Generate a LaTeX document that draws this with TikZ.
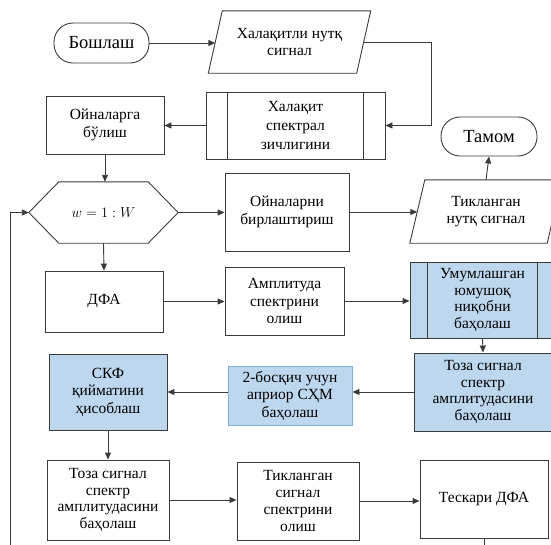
\documentclass[tikz,border=0pt]{standalone}
\usepackage{fontspec}
\setmainfont{Liberation Serif}
\newfontfamily\tnr{Liberation Serif}
\usetikzlibrary{arrows.meta,calc}
\definecolor{bfill}{HTML}{BDD7EE}
\definecolor{ln}{HTML}{3A3A3A}
\definecolor{bl}{HTML}{7FAEDC}
\tikzset{
  base/.style={align=center, inner sep=0pt, text=black, font=\tnr\fontsize{15.5}{17.5}\selectfont},
  box/.style={base, draw=ln, line width=0.9pt},
  bluebox/.style={box, fill=bfill},
  term/.style={box, rounded corners=19pt, font=\tnr\fontsize{18.5}{21}\selectfont},
  shapeline/.style={draw=ln, line width=0.9pt},
  conn/.style={draw=ln, line width=0.9pt},
  arr/.style={conn, -{Triangle[length=7pt,width=6pt]}},
}
\begin{document}
\begin{tikzpicture}[x=1pt,y=-1pt]
\useasboundingbox (0,0) rectangle (551,544);
\clip (0,0) rectangle (551,544);

% nodes
\node[term, minimum width=95, minimum height=40] (start) at (101.5,43) {Бошлаш};
\node[base, minimum width=148, minimum height=62] (in) at (289.5,42) {Халақитли нутқ\\сигнал};
\draw[shapeline] ([xshift=-7pt]in.south west) -- ([xshift=-7pt]in.south east) -- ([xshift=7pt]in.north east) -- ([xshift=7pt]in.north west) -- cycle;

\node[box, minimum width=179, minimum height=67, font=\tnr\fontsize{15.5}{19}\selectfont] (noise) at (295.5,125.5) {Халақит\\спектрал\\зичлигини};
\draw[shapeline] ([xshift=22pt]noise.north west) -- ([xshift=22pt]noise.south west);
\draw[shapeline] ([xshift=-22pt]noise.north east) -- ([xshift=-22pt]noise.south east);

\node[box, minimum width=118, minimum height=58] (split) at (105,125) {Ойналарга\\бўлиш};

\node[base, minimum width=149, minimum height=61] (loop) at (103.5,212.5) {$w = 1 : W$};
\draw[shapeline] (loop.west) -- ([xshift=30pt]loop.north west) -- ([xshift=-30pt]loop.north east) -- (loop.east) -- ([xshift=-30pt]loop.south east) -- ([xshift=30pt]loop.south west) -- cycle;

\node[box, minimum width=124, minimum height=78] (merge) at (287,212) {Ойналарни\\бирлаштириш};

\node[base, minimum width=137, minimum height=63] (out) at (486,211.5) {Тикланган\\нутқ сигнал};
\draw[shapeline] ([xshift=-7.5pt]out.south west) -- ([xshift=-7.5pt]out.south east) -- ([xshift=7.5pt]out.north east) -- ([xshift=7.5pt]out.north west) -- cycle;

\node[term, minimum width=96, minimum height=39] (end) at (489,136.5) {Тамом};

\node[box, minimum width=118, minimum height=61] (dfa) at (104,301.5) {ДФА};
\node[box, minimum width=119, minimum height=68] (amp) at (284.5,301) {Амплитуда\\спектрини\\олиш};

\node[bluebox, minimum width=145, minimum height=76, font=\tnr\fontsize{15.5}{16.5}\selectfont] (mask) at (482.5,300) {Умумлашган\\юмушоқ\\ниқобни\\баҳолаш};
\draw[shapeline] ([xshift=18pt]mask.north west) -- ([xshift=18pt]mask.south west);
\draw[shapeline] ([xshift=-18pt]mask.north east) -- ([xshift=-18pt]mask.south east);

\node[bluebox, minimum width=138, minimum height=78, font=\tnr\fontsize{15.5}{16.5}\selectfont] (clean1) at (483,392) {Тоза сигнал\\спектр\\амплитудасини\\баҳолаш};
\node[bluebox, draw=bl, minimum width=124, minimum height=59] (prior) at (290,395.5) {2-босқич учун\\априор СҲМ\\баҳолаш};
\node[bluebox, minimum width=118, minimum height=76] (skf) at (108,392) {СКФ\\қийматини\\ҳисоблаш};

\node[box, minimum width=122, minimum height=80, font=\tnr\fontsize{15.5}{16.5}\selectfont] (clean2) at (108,500) {Тоза сигнал\\спектр\\амплитудасини\\баҳолаш};
\node[box, minimum width=122, minimum height=78, font=\tnr\fontsize{15.5}{16.7}\selectfont] (rec) at (298,501) {Тикланган\\сигнал\\спектрини\\олиш};
\node[box, minimum width=128, minimum height=78] (idfa) at (484,499) {Тескари ДФА};

\coordinate (lb) at (10,560);

% connectors
\draw[arr] (start.east) -- (start.east -| in.west);
\draw[arr] (in.east) -- ++(68,0) |- (noise.east);
\draw[arr] (noise.west) -- (noise.west -| split.east);
\draw[arr] (split.south) -- (split.south |- loop.north);
\draw[arr] (loop.east) -- (loop.east -| merge.west);
\draw[arr] (merge.east) -- (merge.east -| out.west);
\draw[arr] (out.north) -- (end.south);
\draw[arr] (loop.south) -- (dfa.north);
\draw[arr] (dfa.east) -- (dfa.east -| amp.west);
\draw[arr] (amp.east) -- (amp.east -| mask.west);
\draw[arr] (mask.south) -- (clean1.north);
\draw[arr] (clean1.west) -- (clean1.west -| prior.east);
\draw[arr] (skf.east -| prior.west) -- (skf.east);
\draw[arr] (skf.south) -- (clean2.north);
\draw[arr] (clean2.east) -- (clean2.east -| rec.west);
\draw[arr] (rec.east) -- (rec.east -| idfa.west);
\draw[conn] (idfa.south) -- (idfa.south |- lb);
\draw[arr] (lb) |- (loop.west);
\end{tikzpicture}
\end{document}
